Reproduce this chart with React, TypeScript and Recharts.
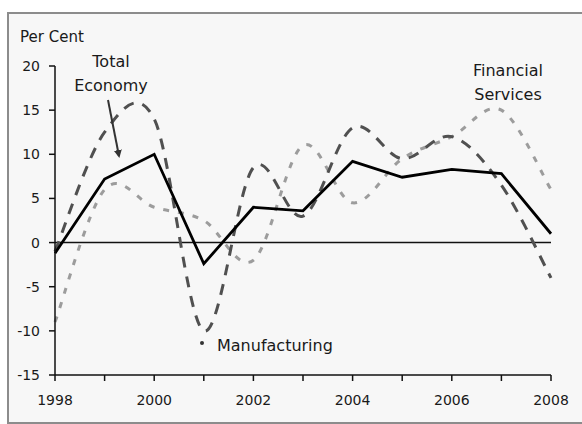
import { LineChart, Line, XAxis, YAxis, ReferenceLine } from "recharts";

const years = [1998, 1999, 2000, 2001, 2002, 2003, 2004, 2005, 2006, 2007, 2008];
const totalEconomy = [-1.2, 7.2, 10, -2.4, 4, 3.6, 9.2, 7.4, 8.3, 7.8, 1];
const manufacturing = [-1, 12.5, 14, -10, 8.5, 3, 13, 9.5, 12, 6.5, -4];
const financialServices = [-9, 6, 4, 2.5, -2, 11, 4.5, 9.5, 12, 15, 6];
const yTicks = [-15, -10, -5, 0, 5, 10, 15, 20];

const data = years.map((year, i) => ({
  year,
  total: totalEconomy[i],
  manu: manufacturing[i],
  fin: financialServices[i],
}));

// Excel-style smoothed line (Catmull-Rom through every point)
function smoothCurve(context: any) {
  let pts: number[][] = [];
  return {
    areaStart() {},
    areaEnd() {},
    lineStart() {
      pts = [];
    },
    lineEnd() {
      if (!pts.length) return;
      context.moveTo(pts[0][0], pts[0][1]);
      for (let i = 0; i < pts.length - 1; i++) {
        const p0 = pts[i - 1] || pts[i];
        const p1 = pts[i];
        const p2 = pts[i + 1];
        const p3 = pts[i + 2] || p2;
        context.bezierCurveTo(
          p1[0] + (p2[0] - p0[0]) / 6,
          p1[1] + (p2[1] - p0[1]) / 6,
          p2[0] - (p3[0] - p1[0]) / 6,
          p2[1] - (p3[1] - p1[1]) / 6,
          p2[0],
          p2[1]
        );
      }
    },
    point(x: number, y: number) {
      pts.push([+x, +y]);
    },
  };
}

const font = "'DejaVu Sans', Verdana, sans-serif";

export default function App() {
  return (
    <div style={{ position: "absolute", left: 0, top: 0, width: 582, height: 424, background: "#fff", overflow: "hidden" }}>
      <div
        style={{
          position: "absolute",
          left: 7,
          top: 12,
          width: 580,
          height: 408,
          border: "2px solid #8c8c8c",
          background: "#f7f7f7",
        }}
      />
      <div style={{ position: "absolute", left: 0, top: 0 }}>
        <LineChart width={582} height={424} data={data} margin={{ top: 66, right: 31, left: 10, bottom: 19 }}>
          <XAxis
            dataKey="year"
            type="number"
            domain={[1998, 2008]}
            ticks={years}
            tickFormatter={(v) => (v % 2 === 0 ? String(v) : "")}
            height={30}
            tickSize={6}
            tickMargin={14}
            stroke="#111"
            strokeWidth={1.5}
            tick={{ fill: "#1a1a1a", fontSize: 14, fontFamily: font }}
          />
          <YAxis
            type="number"
            domain={[-15, 20]}
            ticks={yTicks}
            width={45}
            tickSize={6}
            tickMargin={9}
            stroke="#111"
            strokeWidth={1.5}
            tick={{ fill: "#1a1a1a", fontSize: 14, fontFamily: font }}
          />
          <ReferenceLine y={0} stroke="#111" strokeWidth={1.5} />
          <Line
            dataKey="fin"
            type={smoothCurve as any}
            stroke="#9c9c9c"
            strokeWidth={3}
            strokeDasharray="6 9"
            dot={false}
            isAnimationActive={false}
          />
          <Line
            dataKey="manu"
            type={smoothCurve as any}
            stroke="#505050"
            strokeWidth={3}
            strokeDasharray="11 9"
            dot={false}
            isAnimationActive={false}
          />
          <Line
            dataKey="total"
            type="linear"
            stroke="#000"
            strokeWidth={2.8}
            dot={false}
            isAnimationActive={false}
          />
        </LineChart>
      </div>
      <svg width={582} height={424} style={{ position: "absolute", left: 0, top: 0, pointerEvents: "none" }}>
        <defs>
          <marker id="head" markerWidth="8" markerHeight="8" refX="6" refY="4" orient="auto" markerUnits="userSpaceOnUse">
            <path d="M0,0 L8,4 L0,8 z" fill="#333" />
          </marker>
        </defs>
        <g fontFamily={font} fontSize={16} fill="#1a1a1a">
          <text x={20} y={42} fontSize={15}>Per Cent</text>
          <text x={111} y={67} textAnchor="middle">Total</text>
          <text x={111} y={91} textAnchor="middle">Economy</text>
          <text x={508} y={76} textAnchor="middle">Financial</text>
          <text x={508} y={100} textAnchor="middle">Services</text>
          <text x={217} y={351}>Manufacturing</text>
        </g>
        <line x1={108} y1={100} x2={119} y2={156} stroke="#333" strokeWidth={2} markerEnd="url(#head)" />
        <circle cx={202} cy={343} r={2} fill="#333" />
      </svg>
    </div>
  );
}
